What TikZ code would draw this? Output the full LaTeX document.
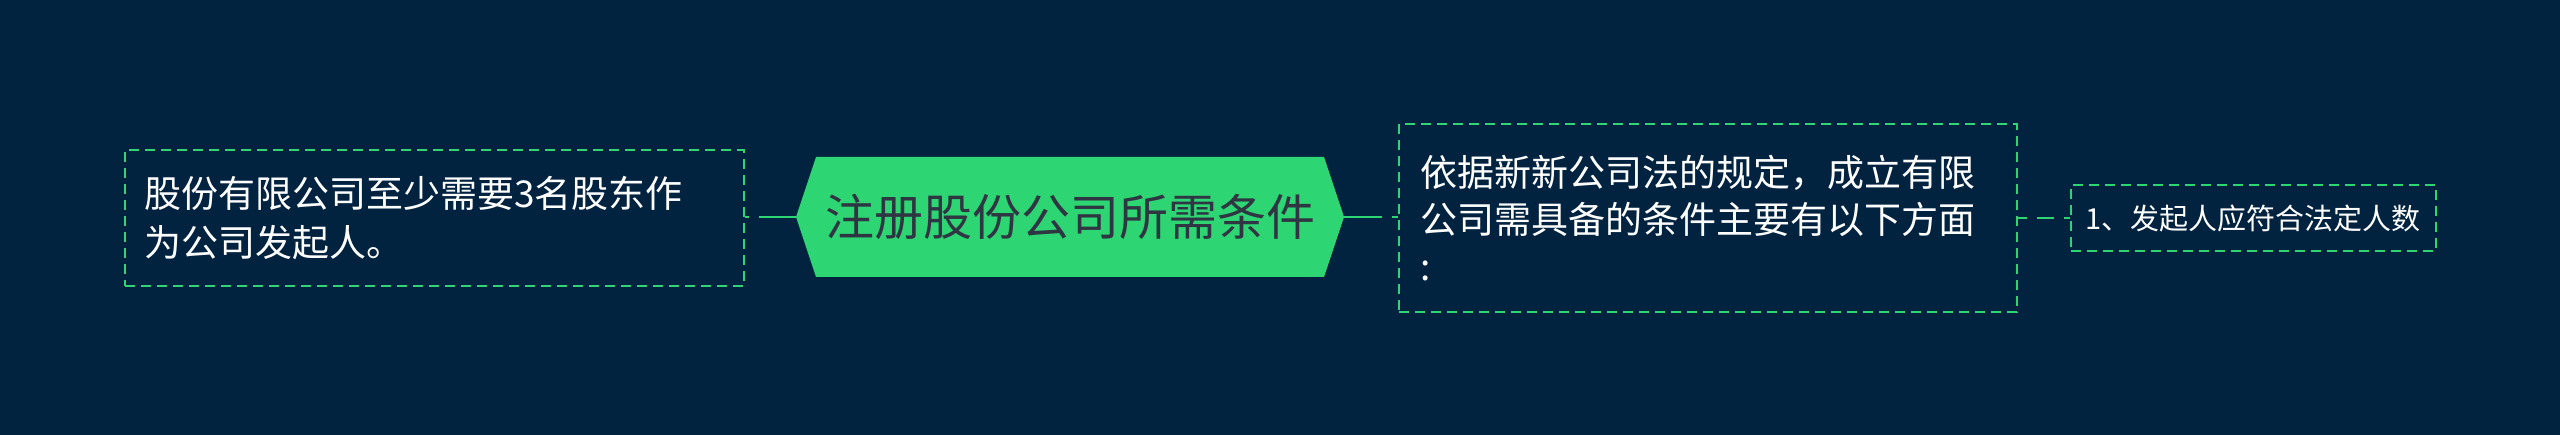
\documentclass[tikz,border=0pt]{standalone}
\usepackage{fontspec}
\newfontfamily\cjk{Noto Sans CJK SC}
\definecolor{bgnavy}{HTML}{012340}
\definecolor{mmgreen}{HTML}{2ED573}
\definecolor{darktext}{HTML}{2F3542}
\pgfdeclarelayer{bg}
\pgfsetlayers{bg,main}
\tikzset{
  leafbox/.style={draw=mmgreen, line width=2pt, dash pattern=on 10pt off 6pt,
    anchor=north west, align=left, text=white, inner ysep=0pt},
  conn/.style={draw=mmgreen, line width=2.6pt},
}
\begin{document}
\begin{tikzpicture}[x=1pt,y=-1pt]
\begin{pgfonlayer}{bg}
\fill[bgnavy] (0,0) rectangle (2560,435);
\fill[mmgreen] (796,217) -- (816,157) -- (1324,157) -- (1344,217) -- (1324,277) -- (816,277) -- cycle;
\end{pgfonlayer}
\useasboundingbox (0,0) rectangle (2560,435);
% centre
\node[minimum width=548pt, minimum height=120pt, inner sep=0pt, text=darktext,
  font=\cjk\fontsize{49pt}{60pt}\selectfont] (C) at (1070,217) {注册股份公司所需条件};
% left
\node[leafbox, minimum width=619pt, minimum height=136pt, text width=581pt, inner xsep=19pt,
  font=\cjk\fontsize{37pt}{49pt}\selectfont] (L) at (124,149)
  {股份有限公司至少需要3名股东作\\为公司发起人。};
% right
\node[leafbox, minimum width=618pt, minimum height=188pt, text width=576pt, inner xsep=21pt,
  font=\cjk\fontsize{37pt}{47pt}\selectfont] (R) at (1398,123)
  {依据新新公司法的规定，成立有限\\公司需具备的条件主要有以下方面\\:};
% sub
\node[leafbox, minimum width=365pt, minimum height=66pt, text width=337pt, inner xsep=14pt,
  font=\cjk\fontsize{29pt}{36pt}\selectfont] (S) at (2070,184)
  {1、发起人应符合法定人数};
% connectors
\draw[conn, dash pattern=on 37pt off 10pt] (C.west) -- (C.west -| L.east);
\draw[conn, dash pattern=on 38pt off 10pt] (C.east) -- (C.east -| R.west);
\draw[conn, dash pattern=on 17pt off 10pt, dash phase=8pt] (R.east) -- (R.east -| S.west);
\end{tikzpicture}
\end{document}
